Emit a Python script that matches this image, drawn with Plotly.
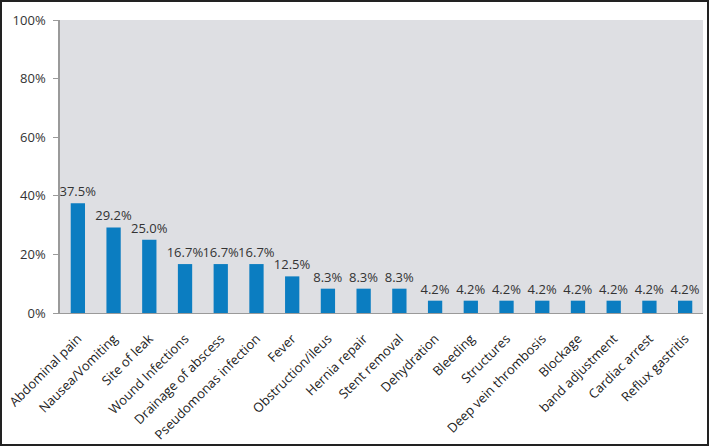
import plotly.graph_objects as go

categories = ["Abdominal pain", "Nausea/Vomiting", "Site of leak", "Wound Infections",
              "Drainage of abscess", "Pseudomonas infection", "Fever", "Obstruction/ileus",
              "Hernia repair", "Stent removal", "Dehydration", "Bleeding", "Structures",
              "Deep vein thrombosis", "Blockage", "band adjustment", "Cardiac arrest",
              "Reflux gastritis"]
values = [37.5, 29.2, 25.0, 16.7, 16.7, 16.7, 12.5, 8.3, 8.3, 8.3,
          4.2, 4.2, 4.2, 4.2, 4.2, 4.2, 4.2, 4.2]
y_ticks = [0, 20, 40, 60, 80, 100]
y_tick_labels = ["0%", "20%", "40%", "60%", "80%", "100%"]

W, H = 710, 447
L, R, T, B = 60, 7, 20, 134
pw, ph = W - L - R, H - T - B

fig = go.Figure(go.Bar(
    x=categories, y=values,
    marker=dict(color="#0b7dc1", line=dict(width=0)),
    text=[f"{v:.1f}%" for v in values],
    textposition="outside",
    constraintext="none",
    textfont=dict(family="Open Sans", size=13, color="#333333"),
    cliponaxis=False,
))

fig.update_layout(
    width=W, height=H,
    margin=dict(l=L, r=R, t=T, b=B, autoexpand=False),
    paper_bgcolor="white",
    plot_bgcolor="#dedfe3",
    bargap=0.6,
    showlegend=False,
    xaxis=dict(
        tickangle=-45,
        tickfont=dict(family="Open Sans", size=13, color="#222222"),
        showgrid=False,
        showline=True, linecolor="#9a9a9a", linewidth=1,
        ticks="", automargin=False,
        ticklabelstandoff=12,
    ),
    yaxis=dict(
        range=[0, 100],
        tickvals=y_ticks, ticktext=y_tick_labels,
        tickfont=dict(family="Open Sans", size=13, color="#333333"),
        showgrid=False,
        showline=True, linecolor="#9a9a9a", linewidth=1.5,
        ticks="outside", ticklen=5, tickcolor="#9a9a9a",
        zeroline=False, automargin=False,
        ticklabelstandoff=5,
    ),
)

# outer frame around the whole image
fig.add_shape(type="rect", xref="paper", yref="paper",
              x0=(1 - L) / pw, x1=(W - 2 - L) / pw,
              y0=(H - B - (H - 2)) / ph, y1=(H - B - 1) / ph,
              line=dict(color="#222222", width=2), fillcolor="rgba(0,0,0,0)")

fig.write_html("out.html", config={"displayModeBar": False},
               post_script="document.body.style.margin='0';")
